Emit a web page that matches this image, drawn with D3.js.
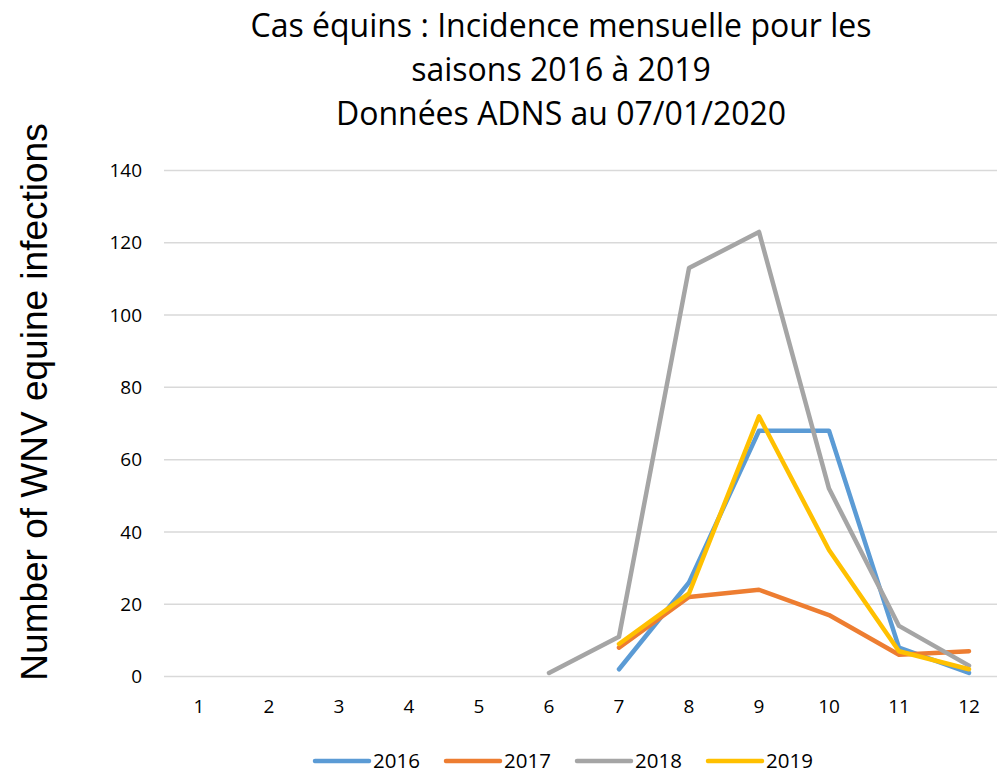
<!DOCTYPE html>
<html lang="fr">
<head>
<meta charset="utf-8" />
<script src="https://cdnjs.cloudflare.com/ajax/libs/d3/7.8.5/d3.min.js"></script>
<style>
    body { margin: 0; background: #fff; }
    svg { display: block; }
    .title { font-family: 'Open Sans', sans-serif; font-size: 32px; fill: #000; }
    .tick-label { font-family: 'Open Sans', sans-serif; font-size: 19px; fill: #000; }
    .ylabel { font-family: 'Liberation Sans', Arial, sans-serif; font-size: 37px; fill: #000; }
    .legend { font-family: 'Open Sans', sans-serif; font-size: 20.5px; fill: #000; }
</style>
</head>
<body>
<div id="chart"></div>
<script>
    const months = [1, 2, 3, 4, 5, 6, 7, 8, 9, 10, 11, 12]
    const yTicks = [0, 20, 40, 60, 80, 100, 120, 140]
    const seriesNames = ['2016', '2017', '2018', '2019']
    const seriesColors = ['#5B9BD5', '#ED7D31', '#A5A5A5', '#FFC000']

    // monthly counts, null where there is no point
    const cases2016 = [null, null, null, null, null, null, 2, 26, 68, 68, 8, 1]
    const cases2017 = [null, null, null, null, null, null, 8, 22, 24, 17, 6, 7]
    const cases2018 = [null, null, null, null, null, 1, 11, 113, 123, 52, 14, 3]
    const cases2019 = [null, null, null, null, null, null, 9, 23, 72, 35, 7, 2]

    const titleLines = [
        'Cas équins : Incidence mensuelle pour les',
        'saisons 2016 à 2019',
        'Données ADNS au 07/01/2020'
    ]

    const series = [cases2016, cases2017, cases2018, cases2019].map(function(vals, i) {
        return { name: seriesNames[i], color: seriesColors[i], values: vals }
    })

    const width = 997, height = 773

    const svg = d3.select('#chart')
        .append('svg')
        .attr('width', width)
        .attr('height', height)

    const x = d3.scalePoint()
        .domain(months)
        .range([164, 1004])
        .padding(0.5)

    const y = d3.scaleLinear()
        .domain([0, 140])
        .range([676.5, 170.5])

    // title
    svg.selectAll('.title')
        .data(titleLines)
        .enter()
        .append('text')
        .attr('class', 'title')
        .attr('x', 561)
        .attr('y', function(d, i) { return 37 + i * 44 })
        .attr('text-anchor', 'middle')
        .text(function(d) { return d })

    // gridlines
    svg.append('g')
        .selectAll('line')
        .data(yTicks)
        .enter()
        .append('line')
        .attr('x1', 164)
        .attr('x2', width)
        .attr('y1', function(d) { return y(d) })
        .attr('y2', function(d) { return y(d) })
        .attr('stroke', '#D9D9D9')
        .attr('stroke-width', 1.5)

    // y tick labels
    svg.append('g')
        .selectAll('text')
        .data(yTicks)
        .enter()
        .append('text')
        .attr('class', 'tick-label')
        .attr('x', 142)
        .attr('y', function(d) { return y(d) })
        .attr('dy', '0.35em')
        .attr('text-anchor', 'end')
        .text(function(d) { return d })

    // x tick labels
    svg.append('g')
        .selectAll('text')
        .data(months)
        .enter()
        .append('text')
        .attr('class', 'tick-label')
        .attr('x', function(d) { return x(d) })
        .attr('y', 706)
        .attr('dy', '0.35em')
        .attr('text-anchor', 'middle')
        .text(function(d) { return d })

    // y axis title
    svg.append('text')
        .attr('class', 'ylabel')
        .attr('transform', 'translate(47,402) rotate(-90)')
        .attr('text-anchor', 'middle')
        .text('Number of WNV equine infections')

    // lines
    const line = d3.line()
        .defined(function(d) { return d != null })
        .x(function(d, i) { return x(months[i]) })
        .y(function(d) { return y(d) })

    svg.append('g')
        .selectAll('path')
        .data(series)
        .enter()
        .append('path')
        .attr('d', function(d) { return line(d.values) })
        .attr('fill', 'none')
        .attr('stroke', function(d) { return d.color })
        .attr('stroke-width', 4.5)
        .attr('stroke-linejoin', 'round')
        .attr('stroke-linecap', 'round')

    // legend
    const legend = svg.append('g')
        .selectAll('g')
        .data(series)
        .enter()
        .append('g')
        .attr('transform', function(d, i) { return 'translate(315,761)'.replace('315', 315 + i * 131) })

    legend.append('line')
        .attr('x1', 0)
        .attr('x2', 54)
        .attr('stroke', function(d) { return d.color })
        .attr('stroke-width', 4.5)
        .attr('stroke-linecap', 'round')

    legend.append('text')
        .attr('class', 'legend')
        .attr('x', 58)
        .attr('dy', '0.35em')
        .text(function(d) { return d.name })
</script>
</body>
</html>
